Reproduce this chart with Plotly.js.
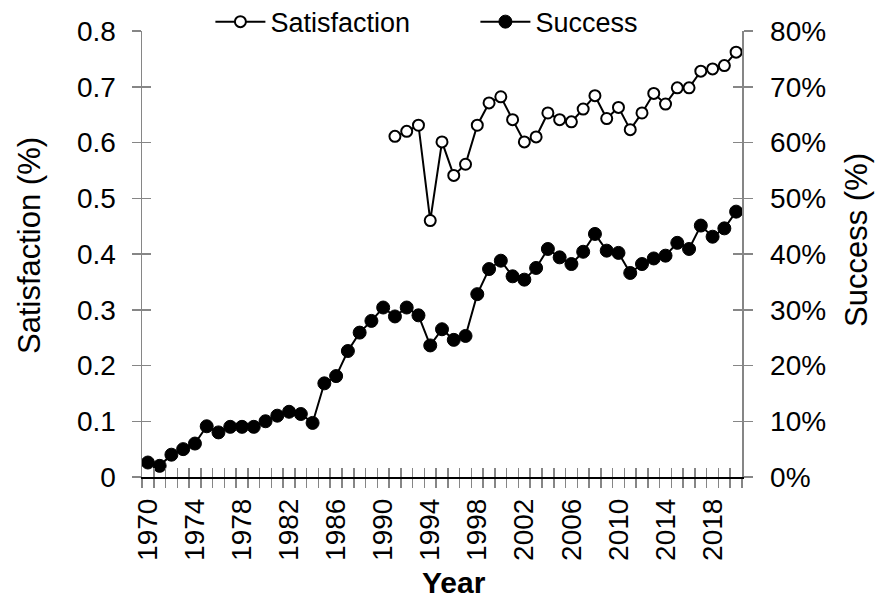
<!DOCTYPE html>
<html>
<head>
<meta charset="utf-8">
<script src="https://cdn.plot.ly/plotly-3.0.1.min.js"></script>
<style>
html,body{margin:0;padding:0;background:#fff;}
#chart{width:877px;height:602px;}
</style>
</head>
<body>
<div id="chart"></div>
<script>
var years = [1970,1971,1972,1973,1974,1975,1976,1977,1978,1979,
             1980,1981,1982,1983,1984,1985,1986,1987,1988,1989,
             1990,1991,1992,1993,1994,1995,1996,1997,1998,1999,
             2000,2001,2002,2003,2004,2005,2006,2007,2008,2009,
             2010,2011,2012,2013,2014,2015,2016,2017,2018,2019,2020];

// Success (%), right axis
var success = [2.6,2.0,4.0,5.0,6.0,9.1,8.0,9.0,9.0,9.0,
               10.0,11.0,11.7,11.3,9.7,16.8,18.1,22.6,25.9,28.0,
               30.4,28.8,30.4,29.0,23.6,26.5,24.6,25.3,32.8,37.3,
               38.8,36.0,35.4,37.5,40.9,39.4,38.2,40.4,43.6,40.6,
               40.2,36.6,38.2,39.2,39.7,42.0,40.9,45.1,43.1,44.6,47.6];

// Satisfaction (fraction), left axis
var satisfaction = [null,null,null,null,null,null,null,null,null,null,
                    null,null,null,null,null,null,null,null,null,null,
                    null,0.611,0.620,0.631,0.460,0.601,0.541,0.561,0.631,0.671,
                    0.682,0.641,0.601,0.610,0.653,0.641,0.637,0.660,0.684,0.643,
                    0.663,0.623,0.653,0.688,0.669,0.698,0.698,0.728,0.732,0.738,0.762];

var yearTicks = [1970,1974,1978,1982,1986,1990,1994,1998,2002,2006,2010,2014,2018];
var yearTickText = ["1970","1974","1978","1982","1986","1990","1994","1998","2002","2006","2010","2014","2018"];

var leftTicks = [0,0.1,0.2,0.3,0.4,0.5,0.6,0.7,0.8];
var leftTickText = ["0","0.1","0.2","0.3","0.4","0.5","0.6","0.7","0.8"];
var rightTicks = [0,10,20,30,40,50,60,70,80];
var rightTickText = ["0%","10%","20%","30%","40%","50%","60%","70%","80%"];

var FONT = "Liberation Sans, Arial, sans-serif";
var GRAY = "#868686";
var xr = [1969.5, 2020.5];

var traces = [
  {x: years, y: satisfaction, name: "Satisfaction", type: "scatter", mode: "lines+markers",
   xaxis: "x", yaxis: "y", connectgaps: false,
   line: {color: "#000", width: 2},
   marker: {symbol: "circle", size: 11, color: "#fff", line: {color: "#000", width: 2}}},
  {x: years, y: success, name: "Success", type: "scatter", mode: "lines+markers",
   xaxis: "x", yaxis: "y2",
   line: {color: "#000", width: 2},
   marker: {symbol: "circle", size: 13, color: "#000", line: {color: "#000", width: 1}}},
  {x: [], y: [], xaxis: "x2", yaxis: "y", showlegend: false, hoverinfo: "skip"},
  {x: [], y: [], xaxis: "x3", yaxis: "y", showlegend: false, hoverinfo: "skip"},
  {x: [], y: [], xaxis: "x", yaxis: "y3", showlegend: false, hoverinfo: "skip"},
  {x: [], y: [], xaxis: "x", yaxis: "y4", showlegend: false, hoverinfo: "skip"}
];

var layout = {
  width: 877, height: 602,
  margin: {l: 142, r: 135, t: 31, b: 125, pad: 0, autoexpand: false},
  paper_bgcolor: "#fff", plot_bgcolor: "rgba(0,0,0,0)",
  font: {family: FONT, size: 28, color: "#000"},
  showlegend: true,
  legend: {orientation: "h", x: 0.114, xanchor: "left", y: 1.02, yanchor: "middle",
           font: {family: FONT, size: 27, color: "#000"}, itemwidth: 50,
           entrywidth: 200, bgcolor: "rgba(0,0,0,0)", borderwidth: 0},
  xaxis: {range: xr, tickmode: "linear", tick0: 1969.5, dtick: 1, ticks: "outside", ticklen: 9,
          tickwidth: 1.5, tickcolor: GRAY, showticklabels: false, showline: true, linecolor: "#000",
          linewidth: 1.5, showgrid: false, zeroline: false, anchor: "y"},
  xaxis2: {range: xr, overlaying: "x", tickmode: "linear", tick0: 1969.5, dtick: 1, ticks: "inside",
           ticklen: 9, tickwidth: 1.5, tickcolor: GRAY, showticklabels: false, showline: false,
           showgrid: false, zeroline: false, anchor: "y", side: "bottom"},
  xaxis3: {range: xr, overlaying: "x", tickmode: "array", tickvals: yearTicks, ticktext: yearTickText,
           ticks: "", tickangle: -90, showline: false, showgrid: false, zeroline: false,
           anchor: "y", side: "bottom", tickfont: {family: FONT, size: 28, color: "#000"},
           ticklabelstandoff: 15},
  yaxis: {range: [0, 0.8], tickmode: "array", tickvals: leftTicks, ticktext: leftTickText,
          ticks: "outside", ticklen: 9, tickwidth: 1.5, tickcolor: GRAY, showline: true,
          linecolor: GRAY, linewidth: 1.5, showgrid: false, zeroline: false, anchor: "x",
          tickfont: {family: FONT, size: 28, color: "#000"}, ticklabelstandoff: 10},
  yaxis4: {range: [0, 0.8], overlaying: "y", tickmode: "array", tickvals: leftTicks,
           ticks: "inside", ticklen: 9, tickwidth: 1.5, tickcolor: GRAY, showticklabels: false,
           showline: false, showgrid: false, zeroline: false, anchor: "x", side: "left"},
  yaxis2: {range: [0, 80], overlaying: "y", side: "right", tickmode: "array", tickvals: rightTicks,
           ticktext: rightTickText, ticks: "outside", ticklen: 9, tickwidth: 1.5, tickcolor: GRAY,
           showline: true, linecolor: GRAY, linewidth: 1.5, showgrid: false, zeroline: false,
           anchor: "x", tickfont: {family: FONT, size: 28, color: "#000"}, ticklabelstandoff: 12},
  yaxis3: {range: [0, 80], overlaying: "y", side: "right", tickmode: "array", tickvals: rightTicks,
           ticks: "inside", ticklen: 9, tickwidth: 1.5, tickcolor: GRAY, showticklabels: false,
           showline: false, showgrid: false, zeroline: false, anchor: "x"},
  annotations: [
    {text: "Satisfaction (%)", xref: "paper", yref: "paper", x: -0.1875, y: 0.519,
     xanchor: "center", yanchor: "middle", textangle: -90, showarrow: false,
     font: {family: FONT, size: 31, color: "#000"}},
    {text: "Success (%)", xref: "paper", yref: "paper", x: 1.192, y: 0.532,
     xanchor: "center", yanchor: "middle", textangle: -90, showarrow: false,
     font: {family: FONT, size: 31, color: "#000"}},
    {text: "<b>Year</b>", xref: "paper", yref: "paper", x: 0.52, y: -0.237,
     xanchor: "center", yanchor: "middle", showarrow: false,
     font: {family: FONT, size: 30, color: "#000"}}
  ]
};

Plotly.newPlot("chart", traces, layout, {staticPlot: true, displayModeBar: false});
</script>
</body>
</html>
